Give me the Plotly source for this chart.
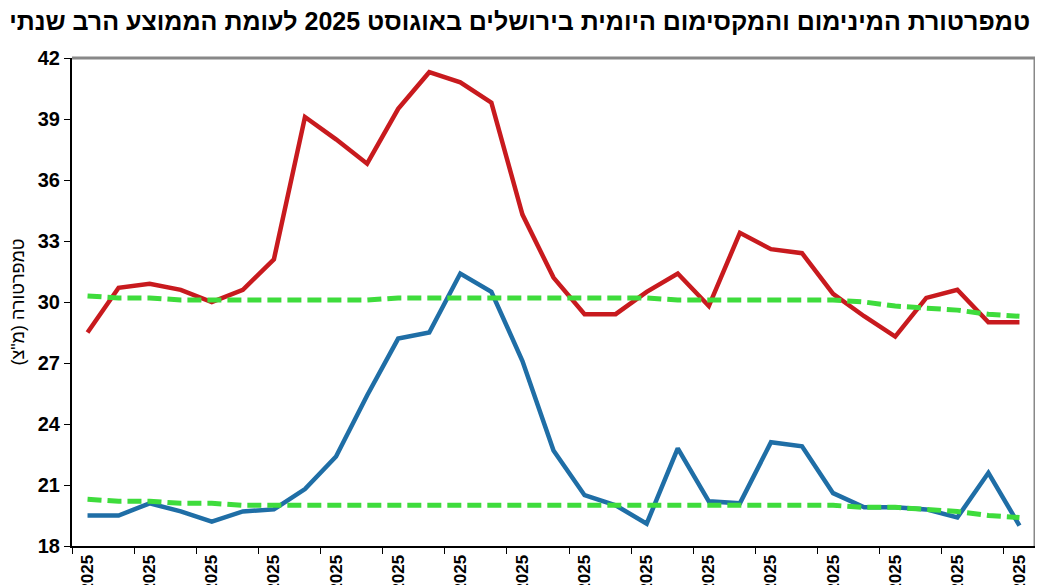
import plotly.graph_objects as go

days = [f"{d:02d}/08/2025" for d in range(1, 32)]

t_max = [28.5, 30.7, 30.9, 30.6, 30.0, 30.6, 32.1, 39.1, 38.0, 36.8,
         39.5, 41.3, 40.8, 39.8, 34.3, 31.2, 29.4, 29.4, 30.5, 31.4,
         29.8, 33.4, 32.6, 32.4, 30.4, 29.3, 28.3, 30.2, 30.6, 29.0, 29.0]

t_min = [19.5, 19.5, 20.1, 19.7, 19.2, 19.7, 19.8, 20.8, 22.4, 25.4,
         28.2, 28.5, 31.4, 30.5, 27.1, 22.7, 20.5, 20.0, 19.1, 22.8,
         20.2, 20.1, 23.1, 22.9, 20.6, 19.9, 19.9, 19.8, 19.4, 21.6, 19.0]

avg_max = [30.3, 30.2, 30.2, 30.1, 30.1, 30.1, 30.1, 30.1, 30.1, 30.1,
           30.2, 30.2, 30.2, 30.2, 30.2, 30.2, 30.2, 30.2, 30.2, 30.1,
           30.1, 30.1, 30.1, 30.1, 30.1, 30.0, 29.8, 29.7, 29.6, 29.4, 29.3]

avg_min = [20.3, 20.2, 20.2, 20.1, 20.1, 20.0, 20.0, 20.0, 20.0, 20.0,
           20.0, 20.0, 20.0, 20.0, 20.0, 20.0, 20.0, 20.0, 20.0, 20.0,
           20.0, 20.0, 20.0, 20.0, 20.0, 19.9, 19.9, 19.8, 19.7, 19.5, 19.4]

y_ticks = [18, 21, 24, 27, 30, 33, 36, 39, 42]

TITLE = "טמפרטורת המינימום והמקסימום היומית בירושלים באוגוסט 2025 לעומת הממוצע הרב שנתי"
Y_TITLE = 'טמפרטורה (מ"צ)'
FONT = "Arial, Liberation Sans, DejaVu Sans, sans-serif"

fig = go.Figure()

fig.add_trace(go.Scatter(x=days, y=t_max, mode="lines",
    line=dict(color="#c81a1e", width=4.5), hoverinfo="x+y", showlegend=False))
fig.add_trace(go.Scatter(x=days, y=t_min, mode="lines",
    line=dict(color="#1f6ea6", width=4.5), hoverinfo="x+y", showlegend=False))
for avg in (avg_max, avg_min):
    fig.add_trace(go.Scatter(x=days, y=avg, mode="lines",
        line=dict(color="#3edc3c", width=5, dash="14px,6px"),
        hoverinfo="x+y", showlegend=False))

# gray frame on top / right like the original
fig.add_shape(type="line", xref="x domain", yref="y domain", x0=0, x1=1, y0=1, y1=1,
              line=dict(color="#888888", width=3))
fig.add_shape(type="line", xref="x domain", yref="y domain", x0=1, x1=1, y0=0, y1=1,
              line=dict(color="#888888", width=3))

fig.update_xaxes(type="category", tickmode="linear", tick0=0, dtick=2,
                 tickson="boundaries", ticks="outside", ticklen=6, tickcolor="black",
                 tickangle=-90, showline=True, linecolor="black", linewidth=2,
                 showgrid=False, zeroline=False, automargin=False,
                 range=[-0.5, 30.5],
                 tickfont=dict(family=FONT, size=17, color="black", weight="bold"))
fig.update_yaxes(range=[18, 42], tickvals=y_ticks, ticks="outside", ticklen=6,
                 tickcolor="black", showline=True, linecolor="black", linewidth=2,
                 showgrid=False, zeroline=False, automargin=False,
                 tickfont=dict(family=FONT, size=20, color="black", weight="bold"),
                 title=dict(text=Y_TITLE, standoff=12,
                            font=dict(family=FONT, size=18, color="black")))

# page body adds ~8px offset, so margins are shifted to land the plot where the original has it
fig.update_layout(
    width=1043, height=585,
    margin=dict(l=64, r=16, t=50, b=47),
    plot_bgcolor="white", paper_bgcolor="white",
    title=dict(text=TITLE, x=0.98, xanchor="right", y=0.978, yanchor="middle",
               font=dict(family=FONT, size=25, color="black", weight="bold")),
    hovermode="closest",
)

fig.write_html("out.html")
